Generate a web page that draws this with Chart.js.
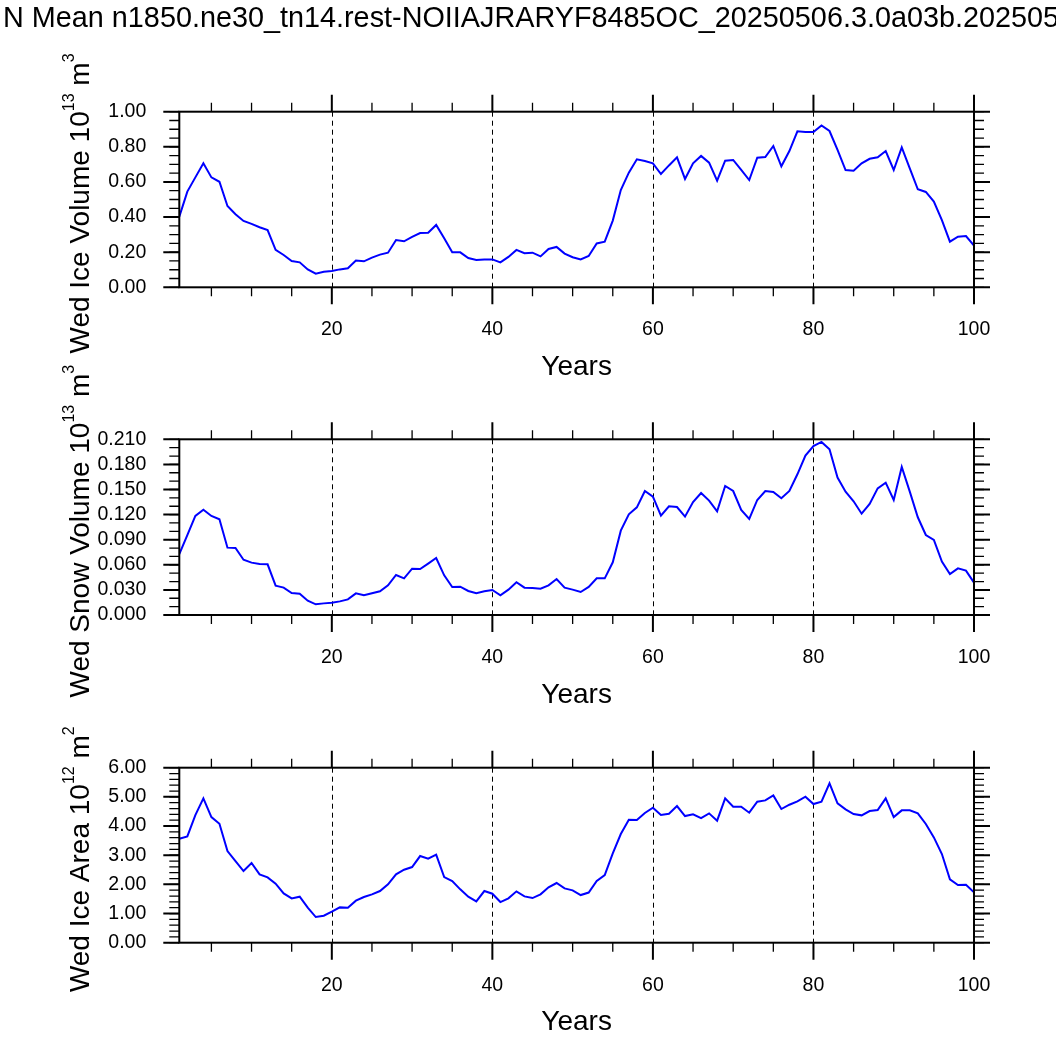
<!DOCTYPE html>
<html><head><meta charset="utf-8">
<script src="https://cdn.jsdelivr.net/npm/chart.js@4.4.1/dist/chart.umd.min.js"></script>
<style>
html,body{margin:0;padding:0;background:#fff;width:1056px;height:1038px;overflow:hidden;position:relative;}
#title{position:absolute;left:3px;top:3px;font-family:"Liberation Sans",Arial,sans-serif;font-size:28.8px;line-height:28.8px;white-space:nowrap;color:#000;z-index:5;}
canvas{position:absolute;left:0;}
</style></head><body>
<div id="title"></div>
<canvas id="c0" width="1056" height="392" style="top:0px"></canvas>
<canvas id="c1" width="1056" height="392" style="top:328px"></canvas>
<canvas id="c2" width="1056" height="392" style="top:656px"></canvas>
<script>
const titleText = "N Mean n1850.ne30_tn14.rest-NOIIAJRARYF8485OC_20250506.3.0a03b.202505";
const xTitle = "Years";
const years = [1,2,3,4,5,6,7,8,9,10,11,12,13,14,15,16,17,18,19,20,21,22,23,24,25,26,27,28,29,30,31,32,33,34,35,36,37,38,39,40,41,42,43,44,45,46,47,48,49,50,51,52,53,54,55,56,57,58,59,60,61,62,63,64,65,66,67,68,69,70,71,72,73,74,75,76,77,78,79,80,81,82,83,84,85,86,87,88,89,90,91,92,93,94,95,96,97,98,99,100];
const xMajorTicks = [20,40,60,80,100];
const xMinorTicks = [5,10,15,25,30,35,45,50,55,65,70,75,85,90,95];
const dashedYears = [20,40,60,80];

const iceVolume = [0.402,0.545,0.626,0.706,0.626,0.601,0.463,0.416,0.378,0.361,0.342,0.326,0.213,0.184,0.150,0.142,0.102,0.078,0.089,0.093,0.102,0.108,0.152,0.148,0.169,0.186,0.197,0.269,0.262,0.287,0.309,0.311,0.355,0.279,0.199,0.199,0.167,0.156,0.159,0.159,0.142,0.173,0.213,0.194,0.197,0.176,0.218,0.230,0.192,0.171,0.159,0.178,0.250,0.260,0.380,0.554,0.653,0.729,0.719,0.706,0.645,0.694,0.740,0.617,0.706,0.748,0.710,0.607,0.721,0.725,0.668,0.611,0.738,0.742,0.805,0.689,0.776,0.888,0.884,0.884,0.922,0.890,0.782,0.668,0.664,0.706,0.732,0.740,0.776,0.668,0.797,0.677,0.558,0.543,0.488,0.383,0.260,0.288,0.292,0.237];
const snowVolume = [0.0729,0.0956,0.1184,0.1259,0.1184,0.1144,0.0805,0.0801,0.0661,0.0626,0.0610,0.0606,0.0351,0.0327,0.0263,0.0255,0.0171,0.0128,0.0139,0.0147,0.0163,0.0187,0.0259,0.0235,0.0259,0.0283,0.0355,0.0478,0.0438,0.0554,0.0550,0.0614,0.0681,0.0474,0.0335,0.0339,0.0287,0.0259,0.0283,0.0299,0.0235,0.0303,0.0391,0.0327,0.0323,0.0315,0.0355,0.0430,0.0327,0.0303,0.0275,0.0335,0.0438,0.0438,0.0630,0.1008,0.1203,0.1287,0.1482,0.1415,0.1187,0.1299,0.1291,0.1176,0.1351,0.1458,0.1367,0.1239,0.1542,0.1482,0.1255,0.1148,0.1375,0.1482,0.1470,0.1395,0.1482,0.1682,0.1905,0.2020,0.2068,0.1980,0.1642,0.1474,0.1359,0.1211,0.1327,0.1514,0.1582,0.1375,0.1769,0.1474,0.1168,0.0956,0.0897,0.0638,0.0490,0.0558,0.0530,0.0387];
const iceArea = [3.566,3.646,4.377,4.949,4.309,4.080,3.143,2.800,2.457,2.731,2.343,2.240,2.023,1.691,1.520,1.577,1.200,0.880,0.926,1.063,1.211,1.200,1.440,1.566,1.657,1.771,2.000,2.343,2.503,2.594,2.971,2.880,3.017,2.251,2.114,1.829,1.577,1.417,1.771,1.680,1.394,1.520,1.760,1.589,1.531,1.657,1.897,2.046,1.863,1.794,1.634,1.720,2.114,2.320,3.063,3.726,4.217,4.206,4.446,4.629,4.377,4.423,4.686,4.343,4.400,4.274,4.434,4.183,4.949,4.663,4.663,4.457,4.834,4.880,5.051,4.583,4.731,4.846,5.006,4.754,4.834,5.463,4.777,4.571,4.411,4.366,4.514,4.549,4.949,4.309,4.537,4.537,4.434,4.069,3.611,3.040,2.171,1.977,1.989,1.726];

const iceVolumeTicks = [0.00,0.20,0.40,0.60,0.80,1.00];
const snowVolumeTicks = [0.000,0.030,0.060,0.090,0.120,0.150,0.180,0.210];
const iceAreaTicks = [0.00,1.00,2.00,3.00,4.00,5.00,6.00];
const iceVolumeMinor = 0.05, snowVolumeMinor = 0.01, iceAreaMinor = 0.2;

// y-axis titles: alternating normal / superscript pieces
const iceVolumeTitle = ["Wed Ice Volume 10","13"," m","3"];
const snowVolumeTitle = ["Wed Snow Volume 10","13"," m","3"];
const iceAreaTitle = ["Wed Ice Area 10","12"," m","2"];

document.getElementById('title').textContent = titleText;

const FONT = "'Liberation Sans', Arial, Helvetica, sans-serif";
const CANVAS_H = 392;
const PLOT_LEFT = 179.3, PLOT_RIGHT = 974;

const panels = [
  {id:'c0', data:iceVolume, ticks:iceVolumeTicks, minor:iceVolumeMinor, dec:2, title:iceVolumeTitle, top:111.7, h:175.6},
  {id:'c1', data:snowVolume, ticks:snowVolumeTicks, minor:snowVolumeMinor, dec:3, title:snowVolumeTitle, top:111.3, h:175.7},
  {id:'c2', data:iceArea, ticks:iceAreaTicks, minor:iceAreaMinor, dec:2, title:iceAreaTitle, top:111.7, h:175.0}
];

const nclPlugin = {
  id: 'ncl',
  beforeDatasetsDraw(chart) {
    const {ctx, chartArea: a, scales: {x}} = chart;
    ctx.save();
    ctx.strokeStyle = '#000'; ctx.lineWidth = 1; ctx.setLineDash([5,4]);
    for (const v of dashedYears) {
      const px = Math.round(x.getPixelForValue(v)) + 0.5;
      ctx.beginPath(); ctx.moveTo(px, a.top); ctx.lineTo(px, a.bottom); ctx.stroke();
    }
    ctx.restore();
  },
  afterDatasetsDraw(chart, args, opts) {
    const {ctx, chartArea: a, scales: {x, y}} = chart;
    ctx.save();
    ctx.strokeStyle = '#000';
    ctx.setLineDash([]);
    const xt = (v, len, lw) => {
      const px = x.getPixelForValue(v);
      ctx.lineWidth = lw;
      ctx.beginPath();
      ctx.moveTo(px, a.bottom); ctx.lineTo(px, a.bottom + len);
      ctx.moveTo(px, a.top); ctx.lineTo(px, a.top - len);
      ctx.stroke();
    };
    xMinorTicks.forEach(v => xt(v, 9, 1.3));
    xMajorTicks.forEach(v => xt(v, 17, 2));
    const yt = (v, len, lw) => {
      const py = y.getPixelForValue(v);
      ctx.lineWidth = lw;
      ctx.beginPath();
      ctx.moveTo(a.left, py); ctx.lineTo(a.left - len, py);
      ctx.moveTo(a.right, py); ctx.lineTo(a.right + len, py);
      ctx.stroke();
    };
    const ymax = opts.ticks[opts.ticks.length - 1];
    const n = Math.round(ymax / opts.minor);
    for (let i = 0; i <= n; i++) yt(i * opts.minor, 10, 1.3);
    opts.ticks.forEach(v => yt(v, 16, 2));
    ctx.lineWidth = 2;
    ctx.strokeRect(a.left, a.top, a.right - a.left, a.bottom - a.top);
    const big = "28px " + FONT, small = "16px " + FONT;
    const parts = opts.title;
    let w = 0;
    parts.forEach((p, i) => { ctx.font = (i % 2 ? small : big); w += ctx.measureText(p).width; });
    ctx.translate(88.5, (a.top + a.bottom) / 2);
    ctx.rotate(-Math.PI / 2);
    ctx.fillStyle = '#000';
    ctx.textBaseline = 'alphabetic';
    ctx.textAlign = 'left';
    let cx = -w / 2 - 4;
    parts.forEach((p, i) => {
      ctx.font = (i % 2 ? small : big);
      ctx.fillText(p, cx, i % 2 ? -15 : 0);
      cx += ctx.measureText(p).width;
    });
    ctx.restore();
  }
};

panels.forEach(p => {
  const T = p.top, H = p.h;
  new Chart(document.getElementById(p.id), {
    type: 'line',
    data: {
      datasets: [{
        data: years.map((yr, i) => ({x: yr, y: p.data[i]})),
        borderColor: '#0000ff',
        borderWidth: 2,
        pointRadius: 0,
        tension: 0,
        fill: false
      }]
    },
    options: {
      responsive: false,
      animation: false,
      devicePixelRatio: 1,
      layout: {padding: {top: T, left: 0, right: 1056 - PLOT_RIGHT, bottom: 0}},
      plugins: {
        legend: {display: false},
        tooltip: {enabled: false},
        ncl: {ticks: p.ticks, minor: p.minor, title: p.title}
      },
      scales: {
        x: {
          type: 'linear', min: 1, max: 100,
          grid: {display: false, drawTicks: false},
          border: {display: false},
          afterBuildTicks: s => { s.ticks = xMajorTicks.map(v => ({value: v})); },
          afterFit: s => { s.height = CANVAS_H - T - H; },
          ticks: {font: {family: FONT, size: 19.5}, color: '#000', padding: 31, maxRotation: 0, autoSkip: false,
                  callback: v => String(v)},
          title: {display: true, text: xTitle, font: {family: FONT, size: 28}, color: '#000',
                  padding: {top: 0, bottom: CANVAS_H - (T + H + 80) - 16.8}}
        },
        y: {
          type: 'linear', min: 0, max: p.ticks[p.ticks.length - 1],
          grid: {display: false, drawTicks: false},
          border: {display: false},
          afterBuildTicks: s => { s.ticks = p.ticks.map(v => ({value: v})); },
          afterFit: s => { s.width = PLOT_LEFT; },
          ticks: {font: {family: FONT, size: 19.5}, color: '#000', padding: 33, autoSkip: false,
                  callback: v => Number(v).toFixed(p.dec)}
        }
      }
    },
    plugins: [nclPlugin]
  });
});
</script>
</body></html>
